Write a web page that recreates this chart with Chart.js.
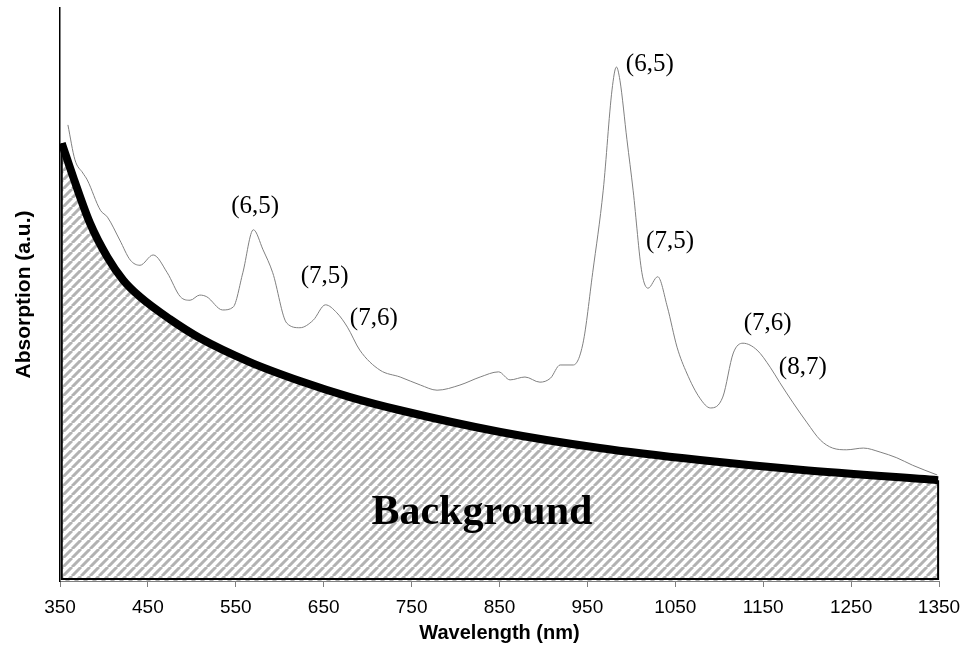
<!DOCTYPE html>
<html><head><meta charset="utf-8">
<script src="https://cdn.jsdelivr.net/npm/chart.js@4.4.0/dist/chart.umd.min.js"></script>
<style>html,body{margin:0;padding:0;background:#fff;} canvas{display:block;}</style>
</head><body>
<canvas id="c" width="968" height="647"></canvas>
<script>
// Measured spectrum (wavelength nm, absorption a.u.)
const wavelengths = [359,367,376,381,396,404,418,430,441,456,472,487,498,509,517,535,547,558,570,581,592,608,623,638,652,665,677,691,714,737,760,779,805,828,849,862,879,896,908,919,934,945,956,968,978,983,987,995,1002,1012,1019,1030,1041,1052,1063,1078,1090,1104,1116,1127,1143,1158,1169,1184,1200,1215,1229,1245,1264,1283,1302,1320,1348];
const absorption = [0.796,0.735,0.712,0.700,0.647,0.635,0.595,0.560,0.551,0.569,0.538,0.496,0.490,0.499,0.496,0.473,0.478,0.538,0.613,0.578,0.538,0.450,0.442,0.455,0.482,0.468,0.443,0.403,0.368,0.356,0.342,0.333,0.342,0.356,0.365,0.351,0.356,0.347,0.354,0.377,0.377,0.415,0.538,0.682,0.857,0.897,0.874,0.770,0.682,0.538,0.511,0.531,0.478,0.408,0.363,0.319,0.302,0.321,0.398,0.415,0.403,0.373,0.346,0.311,0.276,0.246,0.232,0.229,0.232,0.225,0.215,0.202,0.185];
// Background baseline
const bgWavelengths = [352,365,384,404,422,441,475,509,566,623,680,737,851,964,1078,1192,1349];
const bgValues = [0.764,0.705,0.625,0.565,0.525,0.496,0.457,0.424,0.382,0.349,0.321,0.298,0.260,0.232,0.211,0.194,0.176];
const xTicks = [350,450,550,650,750,850,950,1050,1150,1250,1350];
const peakLabels = ["(6,5)","(7,5)","(7,6)","(6,5)","(7,5)","(7,6)","(8,7)"];
const peakWl = [572,651,707,1021,1044,1155,1195];
const peakVal = [0.653,0.532,0.459,0.902,0.593,0.449,0.372];
const bgLabel = "Background";
const bgLabelWl = 830;
const bgLabelVal = 0.118;

function hatchPattern(ctx){
  const s = 9, c = document.createElement('canvas');
  c.width = s; c.height = s;
  const g = c.getContext('2d');
  g.fillStyle = '#ffffff'; g.fillRect(0,0,s,s);
  g.strokeStyle = '#b2b2b2'; g.lineWidth = 3;
  g.beginPath();
  for (let k = 0; k <= 2; k++){ g.moveTo(k*s, 0); g.lineTo(k*s - s, s); }
  g.stroke();
  return ctx.createPattern(c, 'repeat');
}

const canvas = document.getElementById('c');
const ctx = canvas.getContext('2d');

const overlay = {
  id: 'overlay',
  afterDatasetsDraw(chart){
    const x = chart.scales.x, y = chart.scales.y, c = chart.ctx;
    c.save();
    const x0 = x.getPixelForValue(bgWavelengths[0]);
    const x1 = x.getPixelForValue(bgWavelengths[bgWavelengths.length-1]);
    const yb = y.getPixelForValue(0) - 2;
    c.strokeStyle = '#000'; c.lineWidth = 2;
    c.beginPath();
    c.moveTo(x0, y.getPixelForValue(bgValues[0]));
    c.lineTo(x0, yb); c.lineTo(x1, yb);
    c.lineTo(x1, y.getPixelForValue(bgValues[bgValues.length-1]));
    c.stroke();
    c.fillStyle = '#000';
    c.textAlign = 'center'; c.textBaseline = 'middle';
    c.font = '25px "Liberation Serif", "Times New Roman", serif';
    peakLabels.forEach((t,i)=>{
      c.fillText(t, x.getPixelForValue(peakWl[i]), y.getPixelForValue(peakVal[i]));
    });
    c.font = 'bold 42px "Liberation Serif", "Times New Roman", serif';
    c.fillText(bgLabel, x.getPixelForValue(bgLabelWl), y.getPixelForValue(bgLabelVal));
    c.restore();
  }
};

new Chart(ctx, {
  type: 'line',
  data: {
    datasets: [
      {
        label: 'Spectrum',
        data: wavelengths.map((w,i)=>({x:w, y:absorption[i]})),
        borderColor: '#808080', borderWidth: 1,
        pointRadius: 0, fill: false, cubicInterpolationMode: 'monotone'
      },
      {
        label: 'Background',
        data: bgWavelengths.map((w,i)=>({x:w, y:bgValues[i]})),
        borderColor: '#000', borderWidth: 8,
        backgroundColor: hatchPattern(ctx),
        pointRadius: 0, fill: 'origin', cubicInterpolationMode: 'monotone'
      }
    ]
  },
  options: {
    responsive: false,
    animation: false,
    layout: { padding: { top: 8, right: 29, left: 12, bottom: 2 } },
    plugins: { legend: { display: false }, tooltip: { enabled: false } },
    scales: {
      x: {
        type: 'linear', min: 350, max: 1350,
        afterBuildTicks: s => { s.ticks = xTicks.map(v => ({ value: v })); },
        ticks: { color: '#000', autoSkip: false, maxRotation: 0, padding: 9,
          callback: v => String(v),
          font: { family: '"Liberation Sans", Arial, sans-serif', size: 19 } },
        grid: { drawOnChartArea: false, drawTicks: true, tickLength: 6, color: '#808080' },
        border: { color: '#808080', width: 1 },
        title: { display: true, text: 'Wavelength (nm)', color: '#000', padding: { top: 0, bottom: 0 },
          font: { family: '"Liberation Sans", Arial, sans-serif', size: 20, weight: 'bold' } },
        afterFit: s => { s.height = 64; s.paddingLeft = 0; s.paddingRight = 0; }
      },
      y: {
        min: 0, max: 1,
        ticks: { display: false },
        grid: { display: false },
        border: { color: '#000', width: 1.5 },
        title: { display: true, text: 'Absorption (a.u.)', color: '#000', padding: { top: 0, bottom: 4 },
          font: { family: '"Liberation Sans", Arial, sans-serif', size: 21, weight: 'bold' } },
        afterFit: s => { s.width = 48; }
      }
    }
  },
  plugins: [overlay]
});
</script>
</body></html>
